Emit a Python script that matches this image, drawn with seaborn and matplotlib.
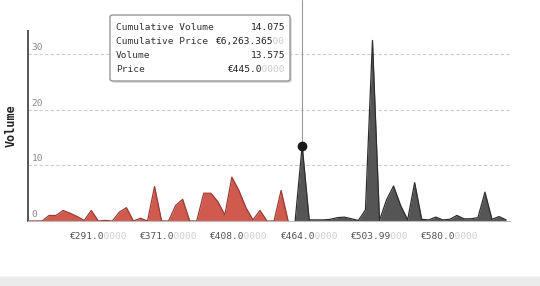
import numpy as np
import pandas as pd
import seaborn as sns
import matplotlib
matplotlib.use("Agg")
from matplotlib import pyplot as plt
from matplotlib.patches import FancyBboxPatch, Rectangle

# volume per price level, bids (red) then asks (dark)
bid_volume = [0, 0, 0, 1.0, 1.0, 1.9, 1.4, 0.8, 0.1, 1.9,
              0, 0.1, 0, 1.6, 2.4, 0, 0.5, 0, 6.2, 0,
              0, 2.8, 3.9, 0, 0, 5.0, 5.0, 3.5, 1.1, 7.9,
              5.5, 2.4, 0.2, 1.9, 0, 0, 5.5, 0]
ask_volume = [0, 13.575, 0.2, 0.2, 0.2, 0.3, 0.6, 0.7, 0.4, 0.1,
              2.0, 32.5, 0.1, 3.8, 6.3, 2.8, 0.2, 6.9, 0.3, 0.2,
              0.7, 0.2, 0.3, 1.0, 0.4, 0.4, 0.6, 5.2, 0.3, 0.8, 0.2]

tick_index = [10, 20, 30, 40, 50, 60]
tick_main = ["€291.0", "€371.0", "€408.0", "€464.0", "€503.99", "€580.0"]
tick_pad = ["0000", "0000", "0000", "0000", "000", "0000"]
y_ticks = [0, 10, 20, 30]

hover_index = 39
tip_labels = ["Cumulative Volume", "Cumulative Price", "Volume", "Price"]
tip_main = ["14.075", "€6,263.365", "13.575", "€445.0"]
tip_pad = ["", "00", "", "0000"]

W, H = 540, 286
MONO = "DejaVu Sans Mono"
FS = 6.8


def fx(x):
    return x / W


def fy(y):
    return 1 - y / H


sns.set_style("white")
plt.rcParams["font.family"] = [MONO, "DejaVu Sans"]

df = pd.DataFrame({
    "idx": np.arange(len(bid_volume) + len(ask_volume)),
    "volume": bid_volume + ask_volume,
    "side": ["bid"] * len(bid_volume) + ["ask"] * len(ask_volume),
})
colors = {"bid": ("#d05a4e", "#9a3b34"), "ask": ("#555555", "#2e2e2e")}

fig = plt.figure(figsize=(W / 100, H / 100), dpi=100)
ax = fig.add_axes([fx(28), 1 - 221 / H, fx(510 - 28), (221 - 31) / H])

for side, (fill, edge) in colors.items():
    sub = df[df["side"] == side]
    ax.fill_between(sub["idx"], 0, sub["volume"], color=fill, lw=0, zorder=2)
sns.lineplot(data=df, x="idx", y="volume", hue="side",
             palette={k: v[1] for k, v in colors.items()},
             legend=False, lw=0.9, ax=ax, zorder=3, estimator=None)

ax.set_xlim(0, (510 - 28) / 7.03)
ax.set_ylim(0, 34.2)

for v in y_ticks[1:]:
    ax.axhline(v, color="#cccccc", lw=0.8, ls=(0, (3, 2)), zorder=1)
for v in y_ticks:
    ax.text(0.007, v + 0.4, str(v), transform=ax.get_yaxis_transform(),
            fontsize=FS, color="#8a8a8a", va="bottom", ha="left")

ax.set_yticks([])
ax.set_xticks(tick_index)
ax.set_xticklabels([])
ax.tick_params(axis="x", length=3, color="#999999", width=0.8)
ax.set_xlabel("")
ax.set_ylabel("Volume", fontsize=8.5, fontweight="bold", color="#222222")
ax.yaxis.set_label_coords(-0.022, 0.5)

for s in ["top", "right"]:
    ax.spines[s].set_visible(False)
ax.spines["left"].set_color("#555555")
ax.spines["left"].set_linewidth(1.4)
ax.spines["bottom"].set_color("#bbbbbb")
ax.spines["bottom"].set_linewidth(0.8)

to_fade = []  # (text, chars kept dark, total chars, veil alpha)

# tick labels: dark significant part, faded trailing zeros
for i, main, pad in zip(tick_index, tick_main, tick_pad):
    t = ax.annotate(main + pad, xy=(i, 0), xycoords=("data", "axes fraction"),
                    xytext=(0, -11.5), textcoords="offset points",
                    fontsize=FS, color="#555555", ha="center", va="center")
    to_fade.append((t, len(main), len(main + pad), 0.72))

# hover crosshair and marker
hover_vol = df.loc[hover_index, "volume"]
ax.axvline(hover_index, ymin=hover_vol / 34.2, ymax=221 / 190, color="#9a9a9a",
           lw=0.8, clip_on=False, zorder=4)
ax.plot([hover_index], [hover_vol], "o", color="#1a1a1a", ms=6, zorder=5, clip_on=False)

# tooltip
shadow = FancyBboxPatch((fx(112), fy(83)), fx(180), 66 / H,
                        boxstyle="round,pad=0,rounding_size=0.006",
                        transform=fig.transFigure, fc="#cccccc", ec="none", alpha=0.6)
box = FancyBboxPatch((fx(110), fy(81)), fx(180), 66 / H,
                     boxstyle="round,pad=0,rounding_size=0.006",
                     transform=fig.transFigure, fc="white", ec="#8c8c8c", lw=0.9)
fig.add_artist(shadow)
fig.add_artist(box)
rows_y = [27, 41.5, 55.5, 70]
for y, lab, main, pad in zip(rows_y, tip_labels, tip_main, tip_pad):
    fig.text(fx(116), fy(y), lab, fontsize=FS, color="#333333", va="center", ha="left")
    t = fig.text(fx(285), fy(y), main + pad, fontsize=FS, color="#222222",
                 va="center", ha="right")
    if pad:
        to_fade.append((t, len(main), len(main + pad), 0.77))

# grey band at the bottom
fig.add_artist(Rectangle((0, 0), 1, 9 / H, transform=fig.transFigure,
                         fc="#ebebeb", ec="none"))
fig.add_artist(Rectangle((0, 9 / H), 1, 1 / H, transform=fig.transFigure,
                         fc="#f4f4f4", ec="none"))

# find the drawn ink of each label, then veil its trailing zeros in white
fig.canvas.draw()
renderer = fig.canvas.get_renderer()
img = np.asarray(fig.canvas.buffer_rgba())[:, :, :3].min(axis=2)
for t, n_main, n_all, alpha in to_fade:
    bb = t.get_window_extent(renderer)
    r0, r1 = int(H - bb.y1), int(np.ceil(H - bb.y0))
    c0, c1 = int(bb.x0) - 2, int(np.ceil(bb.x1)) + 2
    cols = np.where((img[r0:r1, c0:c1] < 170).any(axis=0))[0] + c0
    ink0, ink1 = cols.min(), cols.max() + 1
    pitch = (ink1 - ink0 + 1.5) / n_all
    x0 = ink0 - 0.75 + pitch * n_main
    fig.add_artist(Rectangle((x0 / W, (bb.y0 - 1) / H), (ink1 + 1 - x0) / W,
                             (bb.height + 2) / H, transform=fig.transFigure,
                             fc="white", ec="none", alpha=alpha, zorder=10))

fig.savefig("out.png", dpi=100)
